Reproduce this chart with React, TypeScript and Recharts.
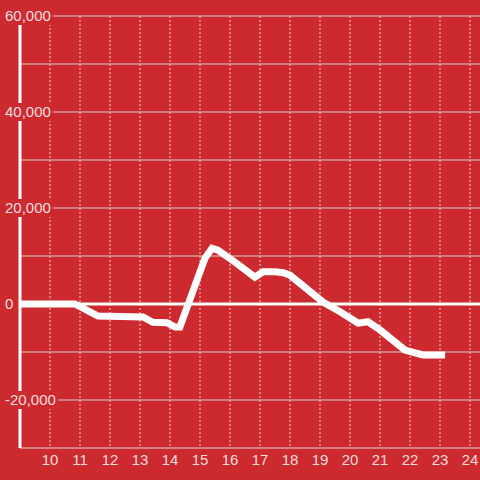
import { CartesianGrid, Line, LineChart, ReferenceLine, XAxis, YAxis } from "recharts"

const BG = "#cd2a2f"
const TEXT = "#f5dede"

const hours = [
  9, 10.83, 11.6, 13.1, 13.43, 13.9, 14.17, 14.33, 15.17, 15.4, 15.6, 16.17, 16.83,
  17.1, 17.5, 17.77, 18, 19.1, 19.67, 20.27, 20.6, 21, 21.83, 22.43, 23.17,
]
const values = [
  0, 0, -2500, -2700, -3800, -3900, -4800, -4800, 9600, 11600, 11200, 8700, 5600,
  6700, 6700, 6500, 6000, 400, -1600, -4000, -3700, -5400, -9600, -10600, -10600,
]
const xTicks = [10, 11, 12, 13, 14, 15, 16, 17, 18, 19, 20, 21, 22, 23, 24]
const yTicks = [-20000, 0, 20000, 40000, 60000]
const yGrid = [-20000, -10000, 0, 10000, 20000, 30000, 40000, 50000, 60000]

const data = hours.map((h, i) => ({ hour: h, value: values[i] }))

function textWidth(s: string) {
  let w = 0
  for (const c of s) w += c === "," ? 4.2 : c === "-" ? 5 : 8.34
  return w
}

function YTick(props: any) {
  const { y, payload } = props
  const label = Number(payload.value).toLocaleString("en-US")
  const w = textWidth(label)
  return (
    <g>
      <rect x={3} y={y - 9} width={w + 4} height={18} fill={BG} />
      <text x={5} y={y} dy="0.36em" fill={TEXT} fontSize={15} fontFamily="Liberation Sans, Arial, sans-serif">
        {label}
      </text>
    </g>
  )
}

function XTick(props: any) {
  const { x, payload } = props
  return (
    <text x={x} y={465} textAnchor="middle" fill={TEXT} fontSize={15} fontFamily="Liberation Sans, Arial, sans-serif">
      {payload.value}
    </text>
  )
}

export default function App() {
  return (
    <div style={{ position: "fixed", left: 0, top: 0, width: 480, height: 480, background: BG }}>
      <LineChart width={480} height={480} data={data} margin={{ top: 16, right: 0, bottom: 0, left: 0 }}>
        <CartesianGrid vertical={false} horizontalValues={yGrid} stroke="#d6cccc" />
        <CartesianGrid horizontal={false} verticalValues={xTicks} stroke="#e8cccc" strokeDasharray="2 2" />
        <ReferenceLine y={0} stroke="#ffffff" strokeWidth={3} />
        <Line
          type="linear"
          dataKey="value"
          stroke="#ffffff"
          strokeWidth={7}
          dot={false}
          activeDot={false}
          isAnimationActive={false}
        />
        <XAxis
          type="number"
          dataKey="hour"
          domain={[9, 24.333]}
          ticks={xTicks}
          allowDataOverflow
          height={32}
          tickLine={false}
          axisLine={{ stroke: "#dcd4d4" }}
          tick={<XTick />}
        />
        <YAxis
          type="number"
          domain={[-30000, 60000]}
          ticks={yTicks}
          allowDataOverflow
          width={20}
          tickLine={false}
          axisLine={{ stroke: "#ffffff", strokeWidth: 3 }}
          tick={<YTick />}
        />
      </LineChart>
    </div>
  )
}
